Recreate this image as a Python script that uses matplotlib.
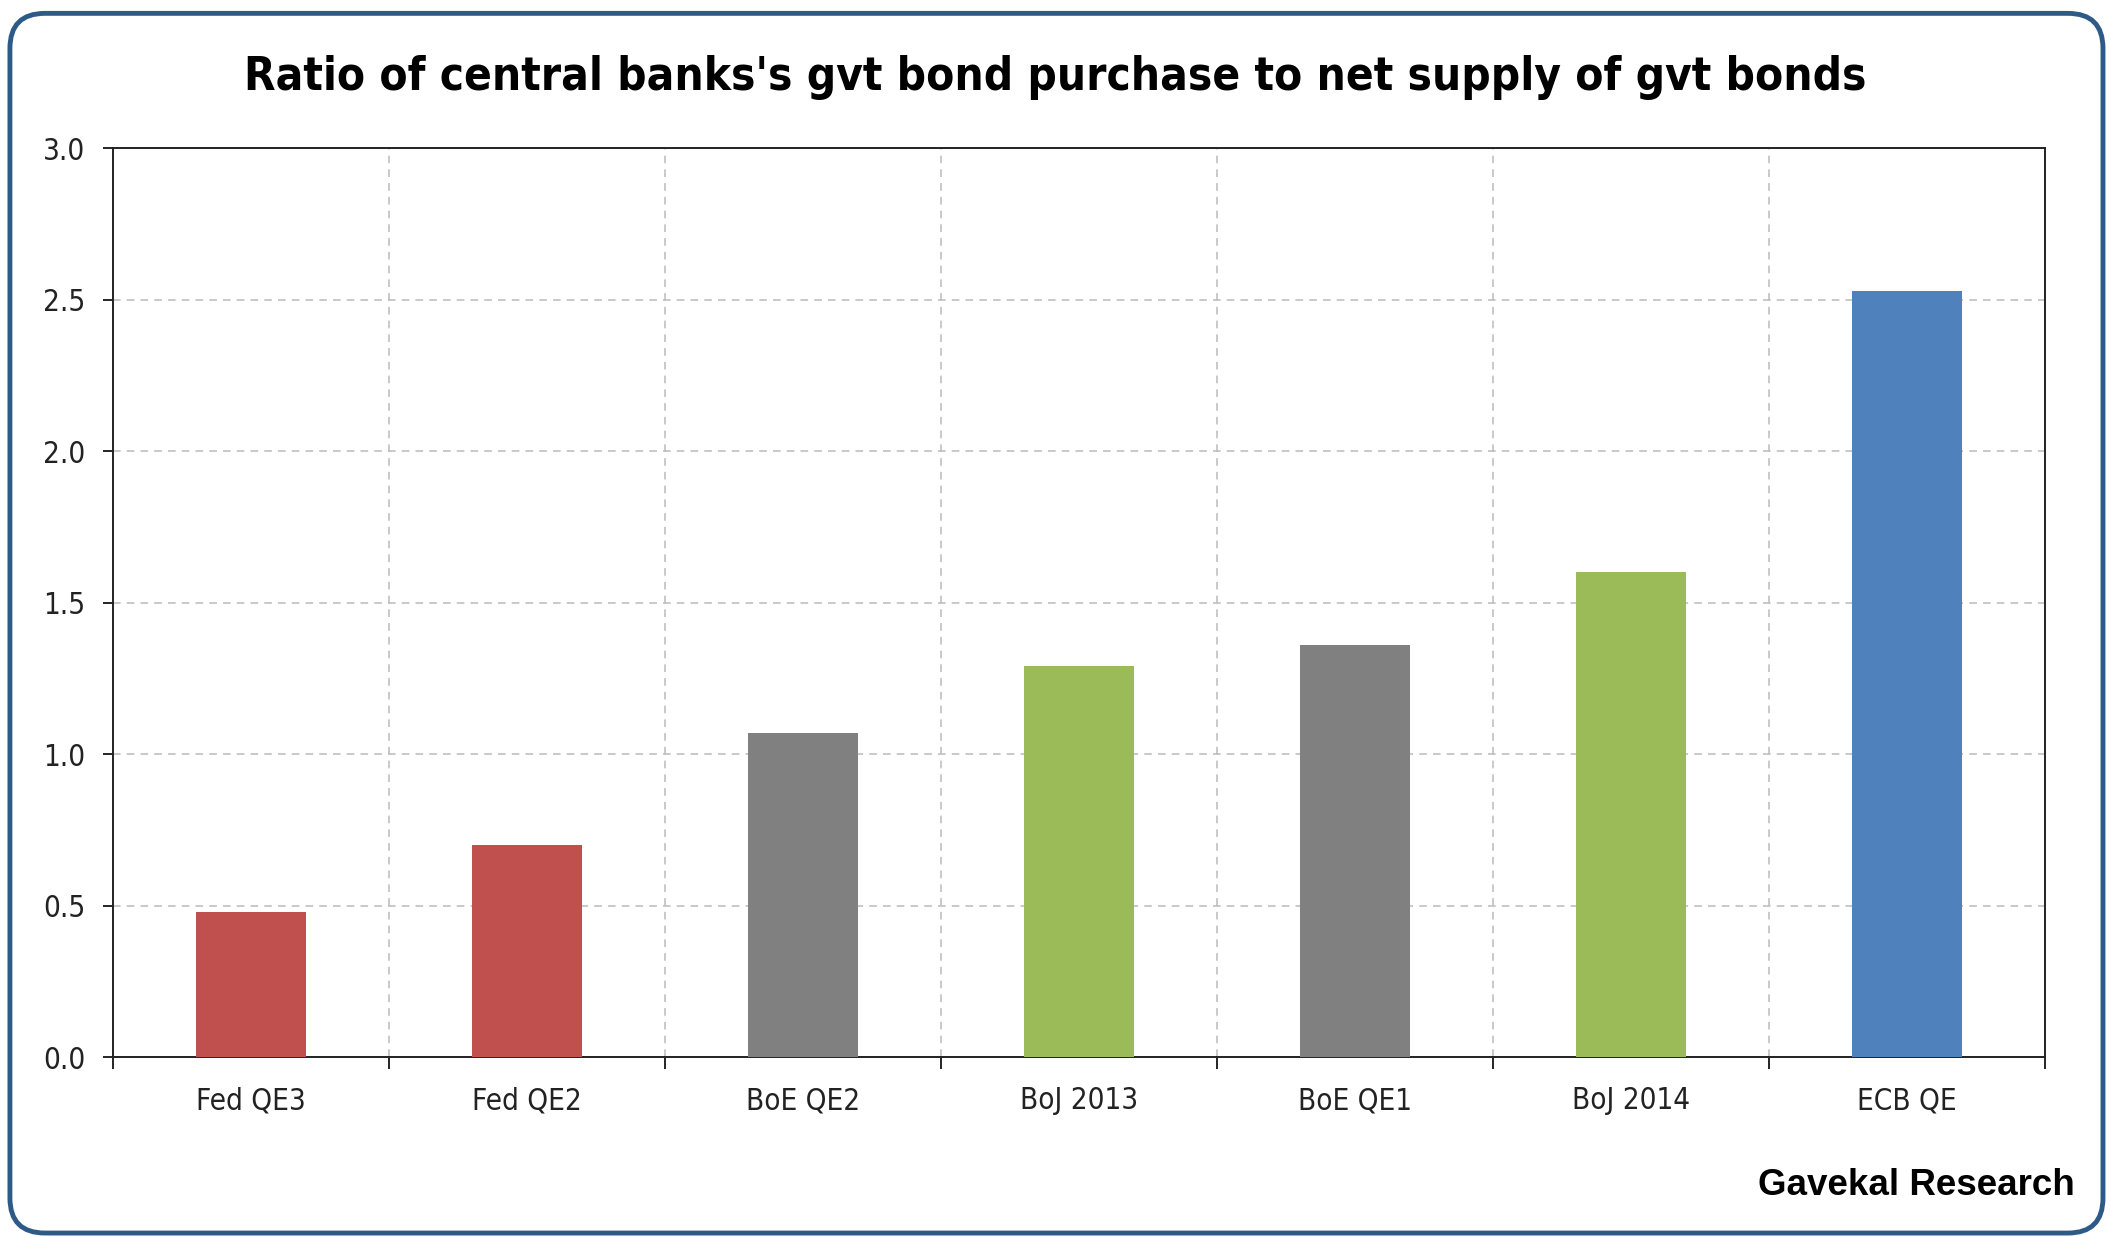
import matplotlib
matplotlib.use("Agg")
import matplotlib.pyplot as plt
from matplotlib import font_manager
from matplotlib.patches import FancyBboxPatch

categories = ['Fed QE3', 'Fed QE2', 'BoE QE2', 'BoJ 2013', 'BoE QE1', 'BoJ 2014', 'ECB QE']
ratios = [0.48, 0.70, 1.07, 1.29, 1.36, 1.60, 2.53]
bar_colors = ['#C0504D', '#C0504D', '#808080', '#9BBB59', '#808080', '#9BBB59', '#4F81BD']
yticks = [0.0, 0.5, 1.0, 1.5, 2.0, 2.5, 3.0]

# pick a narrow face if one is there
names = {(f.name, f.stretch) for f in font_manager.fontManager.ttflist}
narrow = dict(family=['Liberation Sans', 'DejaVu Sans'])
if any(n == 'Liberation Sans Narrow' for n, _ in names):
    narrow = dict(family=['Liberation Sans Narrow', 'DejaVu Sans'])
elif ('DejaVu Sans', 'condensed') in names or ('DejaVu Sans', 'semi-condensed') in names:
    narrow = dict(family=['DejaVu Sans'], stretch='condensed')

fig = plt.figure(figsize=(21.11, 12.37), dpi=100)
ax = fig.add_axes([0.0535, 0.1455, 0.9152, 0.7345])

frame = FancyBboxPatch((0.0047, 0.0032), 0.9915, 0.986, boxstyle="round,pad=0,rounding_size=0.0166",
                       transform=fig.transFigure, fill=False, edgecolor='#2E5A88', linewidth=3.5,
                       mutation_aspect=2111 / 1237)
fig.patches.append(frame)

x = list(range(len(categories)))
ax.bar(x, ratios, width=0.4, color=bar_colors, zorder=3)

ax.set_xlim(-0.5, len(categories) - 0.5)
ax.set_ylim(0, 3.0)
ax.set_yticks(yticks)
ax.set_yticklabels([f'{v:.1f}' for v in yticks], fontsize=20, color='#222222', **narrow)

ax.set_xticks([i - 0.5 for i in range(len(categories) + 1)])
ax.set_xticklabels([])
ax.set_xticks(x, minor=True)
ax.set_xticklabels(categories, minor=True, fontsize=20, color='#222222', **narrow)
ax.tick_params(axis='x', which='minor', length=0, pad=21)
ax.tick_params(axis='x', which='major', length=8.5, width=1.2, direction='out')
ax.tick_params(axis='y', length=7, width=1.2, direction='out', pad=13)

ax.grid(True, axis='y', linestyle=(0, (5, 4)), color='#BBBBBB', linewidth=1.1, zorder=0)
ax.grid(True, axis='x', which='major', linestyle=(0, (5, 4)), color='#BBBBBB', linewidth=1.1, zorder=0)

for s in ax.spines.values():
    s.set_linewidth(1.4)
    s.set_color('#222222')

title = fig.text(0.5, 0.937, "Ratio of central banks's gvt bond purchase to net supply of gvt bonds",
                 ha='center', va='center', fontweight='bold', fontsize=40, **narrow)
fig.text(0.983, 0.042, 'Gavekal Research', ha='right', va='center',
         family=['Liberation Sans', 'DejaVu Sans'], fontweight='bold', fontsize=26.5)

# size the title to the reference width (~1620 px)
r = fig.canvas.get_renderer()
w = title.get_window_extent(renderer=r).width
title.set_fontsize(40 * 1620 / w)

# category labels ~110 px wide for "Fed QE3"
lab = ax.get_xticklabels(minor=True)[0]
w2 = lab.get_window_extent(renderer=r).width
fs = 20 * 110 / w2
for t in ax.get_xticklabels(minor=True) + ax.get_yticklabels():
    t.set_fontsize(fs)

fig.savefig('out.png', dpi=100)
